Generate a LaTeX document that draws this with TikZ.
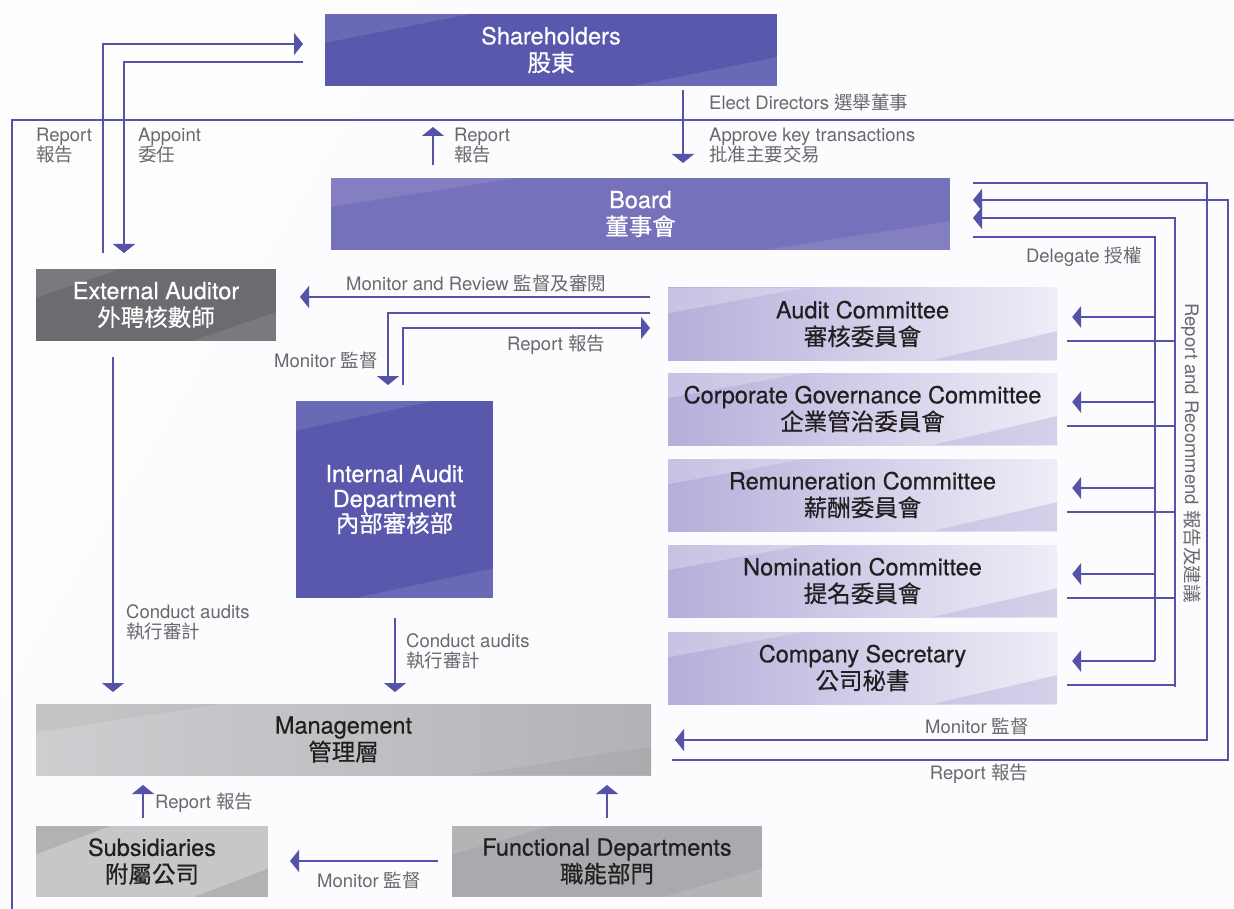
\documentclass[tikz,border=0pt]{standalone}
\usepackage{fontspec}
\setmainfont{TeX Gyre Heros}
\newfontfamily\cjkfont{Noto Sans CJK TC}
\newfontfamily\boxfont[FakeBold=0.5]{TeX Gyre Heros}
\newfontfamily\cjkboxfont[FakeBold=0.5]{Noto Sans CJK TC}
\usetikzlibrary{arrows.meta,calc}
\let\cjkcur\cjkfont
\newcommand{\zh}[1]{{\cjkcur #1}}
\definecolor{linec}{HTML}{5553A8}
\definecolor{lblc}{HTML}{68696C}
\definecolor{shc}{HTML}{5A58AD}
\definecolor{bdc}{HTML}{7571BB}
\definecolor{eac}{HTML}{6B6C70}
\definecolor{txtc}{HTML}{231F20}
\definecolor{cmL}{HTML}{B5AEDA}
\definecolor{cmR}{HTML}{EFEDF7}
\definecolor{bgc}{HTML}{FCFBFE}
\definecolor{mgL}{HTML}{CDCED0}
\definecolor{mgR}{HTML}{B2B3B6}
\definecolor{subc}{HTML}{C6C7C9}
\definecolor{fdc}{HTML}{A9AAAD}
\begin{document}
\begin{tikzpicture}[x=1pt,y=-1pt,
  lc/.style={draw=linec, line width=1.4pt},
  arr/.style={lc, -{Triangle[width=22pt,length=9pt]}},
  box/.style={inner sep=0pt, align=center, font=\boxfont\let\cjkcur\cjkboxfont\fontsize{23.5}{27}\selectfont},
  lbl/.style={inner sep=0pt, align=left, text=lblc, font=\fontsize{18.5}{20}\selectfont},
  gloss/.style n args={4}{path picture={
    \fill[#1,opacity=#2] (path picture bounding box.north west) -- ($(path picture bounding box.north west)!#3!(path picture bounding box.north east)$) -- ($(path picture bounding box.north west)!#4!(path picture bounding box.south west)$) -- cycle;
    \fill[#1,opacity=#2] (path picture bounding box.south east) -- ($(path picture bounding box.south east)!#3!(path picture bounding box.south west)$) -- ($(path picture bounding box.south east)!#4!(path picture bounding box.north east)$) -- cycle;}},
  cbox/.style={box, left color=cmL, right color=cmR, text=txtc, minimum width=389pt, minimum height=72pt,
    path picture={
    \fill[white,opacity=0.25] (path picture bounding box.north west) -- ($(path picture bounding box.north west)!0.35!(path picture bounding box.north east)$) -- ($(path picture bounding box.north west)!0.35!(path picture bounding box.south west)$) -- cycle;
    \fill[cmL,opacity=0.45] (path picture bounding box.south east) -- ($(path picture bounding box.south east)!0.32!(path picture bounding box.south west)$) -- ($(path picture bounding box.south east)!0.4!(path picture bounding box.north east)$) -- cycle;}}
]
\useasboundingbox (0,0) rectangle (1234,909);
\fill[bgc] (0,0) rectangle (1234,909);
\fill[white,opacity=0.7] (0,0) -- (420,0) -- (0,700) -- cycle;

% frame
\draw[lc] (1234,120) -- (12,120) -- (12,909);

% boxes
\node[box, fill=shc, text=white, minimum width=452pt, minimum height=72pt, gloss={white}{0.1}{0.32}{0.4}] (sh) at (551,50) {Shareholders\\\zh{股東}};
\node[box, fill=bdc, text=white, minimum width=619pt, minimum height=72pt, gloss={white}{0.1}{0.3}{0.4}] (board) at (640.5,214) {Board\\\zh{董事會}};
\node[box, fill=eac, text=white, minimum width=240pt, minimum height=72pt, gloss={white}{0.1}{0.35}{0.4}] (ea) at (156,305) {External Auditor\\\zh{外聘核數師}};
\node[box, fill=shc, text=white, minimum width=197pt, minimum height=197pt, font=\boxfont\let\cjkcur\cjkboxfont\fontsize{23.5}{25}\selectfont, gloss={white}{0.1}{0.7}{0.15}] (ia) at (394.5,499.5) {Internal Audit\\Department\\\zh{內部審核部}};
\node[cbox] (ac) at (862.5,324) {Audit Committee\\\zh{審核委員會}};
\node[cbox] (cg) at (862.5,409) {Corporate Governance Committee\\\zh{企業管治委員會}};
\node[cbox] (rem) at (862.5,495) {Remuneration Committee\\\zh{薪酬委員會}};
\node[cbox] (nom) at (862.5,581) {Nomination Committee\\\zh{提名委員會}};
\node[cbox] (cs) at (862.5,668) {Company Secretary\\\zh{公司秘書}};
\node[box, left color=mgL, right color=mgR, text=txtc, minimum width=615pt, minimum height=71pt, gloss={black}{0.04}{0.3}{0.4}] (mg) at (343.5,739.5) {Management\\\zh{管理層}};
\node[box, fill=subc, text=txtc, minimum width=232pt, minimum height=71pt, gloss={black}{0.1}{0.32}{0.4}] (sub) at (152,861.5) {Subsidiaries\\\zh{附屬公司}};
\node[box, fill=fdc, text=txtc, minimum width=310pt, minimum height=71pt, gloss={white}{0.12}{0.32}{0.4}] (fd) at (607,861.5) {Functional Departments\\\zh{職能部門}};

% coordinates
\coordinate (eaRep) at (103,253);
\coordinate (shRep) at (303,44);
\coordinate (shApp) at (303,62);
\coordinate (eaApp) at (124,253);
\coordinate (bdUp0) at (433,165);
\coordinate (shIn) at (433,127);
\coordinate (shOut) at (683,90);
\coordinate (bdIn) at (683,163);
\coordinate (bd1) at (973,183);
\coordinate (bd2) at (973,200);
\coordinate (bd3) at (973,218);
\coordinate (bd4) at (973,237);
\coordinate (mgIn) at (675,740);
\coordinate (mgOut) at (672,760);
\coordinate (acOut1) at (650,297);
\coordinate (eaIn) at (300,297);
\coordinate (acOut2) at (650,313);
\coordinate (iaIn) at (388,385);
\coordinate (iaOut) at (403,385);
\coordinate (acIn) at (650,328);
\coordinate (eaDown) at (113,357);
\coordinate (mgA) at (113,692);
\coordinate (iaDown) at (395,618);
\coordinate (mgB) at (395,692);
\coordinate (subUp) at (143,818);
\coordinate (mgC) at (143,785);
\coordinate (fdUp) at (607,818);
\coordinate (mgD) at (607,785);
\coordinate (fdL) at (438,861);
\coordinate (subIn) at (290,861);

% top connectors
\draw[arr] (eaRep) |- (shRep);
\draw[arr] (shApp) -| (eaApp);
\draw[arr] (bdUp0) -- (shIn);
\draw[arr] (shOut) -- (bdIn);

% board <-> management
\draw[arr] (bd1) -- (1207,183) -- (1207,740) -- (mgIn);
\draw[arr] (mgOut) -- (1228,760) -- (1228,200) -- (bd2);

% committees report
\draw[arr] (1175,687) -- (1175,218) -- (bd3);
\foreach \n in {ac,cg,rem,nom,cs}{
  \draw[lc] ($(\n.east)+(10,17)$) -- ($(\n.east)+(118,17)$);
}
% delegate
\draw[lc] (bd4) -- (1155,237) -- (1155,661);
\foreach \n in {ac,cg,rem,nom,cs}{
  \draw[arr] ($(\n.east)+(98,-7)$) -- ($(\n.east)+(15,-7)$);
}

% audit committee links
\draw[arr] (acOut1) -- (eaIn);
\draw[arr] (acOut2) -| (iaIn);
\draw[arr] (iaOut) |- (acIn);

% audits
\draw[arr] (eaDown) -- (mgA);
\draw[arr] (iaDown) -- (mgB);

% bottom
\draw[arr] (subUp) -- (mgC);
\draw[arr] (fdUp) -- (mgD);
\draw[arr] (fdL) -- (subIn);

% labels
\node[lbl, anchor=north west] (l1) at (36,128) {Report\\\zh{報告}};
\node[lbl, anchor=north west] (l2) at (138,128) {Appoint\\\zh{委任}};
\node[lbl, anchor=north west] (l3) at (454,128) {Report\\\zh{報告}};
\node[lbl, anchor=west] (l4) at (709,102) {Elect Directors \zh{選舉董事}};
\node[lbl, anchor=north west] (l5) at (709,128) {Approve key transactions\\\zh{批准主要交易}};
\node[lbl, anchor=east] (l6) at (1142,257) {Delegate \zh{授權}};
\node[lbl, rotate=-90] (l7) at (1191,453) {Report and Recommend \zh{報告及建議}};
\node[lbl, anchor=west] (l8) at (346,283) {Monitor and Review \zh{監督及審閱}};
\node[lbl, anchor=east] (l9) at (378,360) {Monitor \zh{監督}};
\node[lbl, anchor=west] (l10) at (507,345) {Report \zh{報告}};
\node[lbl, anchor=north west] (l11) at (126,604) {Conduct audits\\\zh{執行審計}};
\node[lbl, anchor=north west] (l12) at (406,633) {Conduct audits\\\zh{執行審計}};
\node[lbl] (l13) at (977,726) {Monitor \zh{監督}};
\node[lbl] (l14) at (979,774) {Report \zh{報告}};
\node[lbl, anchor=west] (l15) at (155,803) {Report \zh{報告}};
\node[lbl, anchor=west] (l16) at (317,880) {Monitor \zh{監督}};
\end{tikzpicture}
\end{document}
